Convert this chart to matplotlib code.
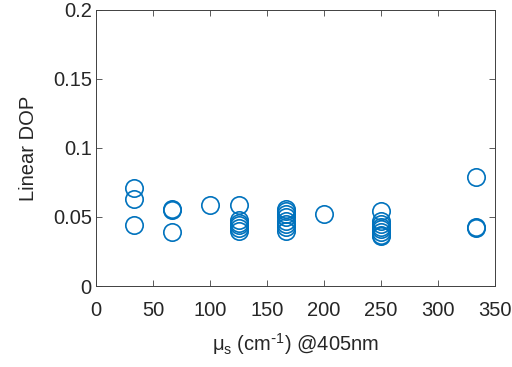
import matplotlib
matplotlib.use("Agg")
import matplotlib.pyplot as plt

plt.rcParams['font.family'] = ['Liberation Sans', 'DejaVu Sans']

# scattering coefficient groups and measured linear DOP
mu_s = [33.3, 33.3, 33.3,
        66.7, 66.7, 66.7,
        100,
        125, 125, 125, 125, 125, 125,
        166.7, 166.7, 166.7, 166.7, 166.7, 166.7, 166.7, 166.7,
        200,
        250, 250, 250, 250, 250, 250, 250, 250,
        333.3, 333.3, 333.3]
dop = [0.071, 0.063, 0.044,
       0.056, 0.055, 0.039,
       0.059,
       0.059, 0.048, 0.046, 0.044, 0.042, 0.040,
       0.056, 0.054, 0.052, 0.050, 0.047, 0.045, 0.043, 0.040,
       0.052,
       0.054, 0.047, 0.045, 0.043, 0.041, 0.039, 0.037, 0.036,
       0.079, 0.043, 0.042]

xticks = [0, 50, 100, 150, 200, 250, 300, 350]
yticks = [0, 0.05, 0.1, 0.15, 0.2]
yticklabels = ['0', '0.05', '0.1', '0.15', '0.2']

fig = plt.figure(figsize=(5.12, 3.67), dpi=100)
ax = fig.add_axes([0.1875, 0.2207, 0.7795, 0.7521])

ax.plot(mu_s, dop, 'o', mfc='none', mec='#0072BD', ms=12.5, mew=1.2)

ax.set_xlim(0, 350)
ax.set_ylim(0, 0.2)
ax.set_xticks(xticks)
ax.set_yticks(yticks)
ax.set_yticklabels(yticklabels)

txt = '#262626'
ax.tick_params(direction='in', top=True, right=True, length=4, width=0.6,
               colors='#404040', labelcolor=txt, labelsize=14.5)
ax.tick_params(axis='x', pad=11)
ax.tick_params(axis='y', pad=3)
for s in ax.spines.values():
    s.set_color('#404040')
    s.set_linewidth(0.7)

ax.set_xlabel(r'$\mathregular{\mu_s}$ (cm$\mathregular{^{\text{-}1}}$) @405nm', fontsize=14.5,
              color=txt, labelpad=8)
ax.set_ylabel('Linear DOP', fontsize=14.5, color=txt, labelpad=11)

fig.savefig('out.png', dpi=100)
